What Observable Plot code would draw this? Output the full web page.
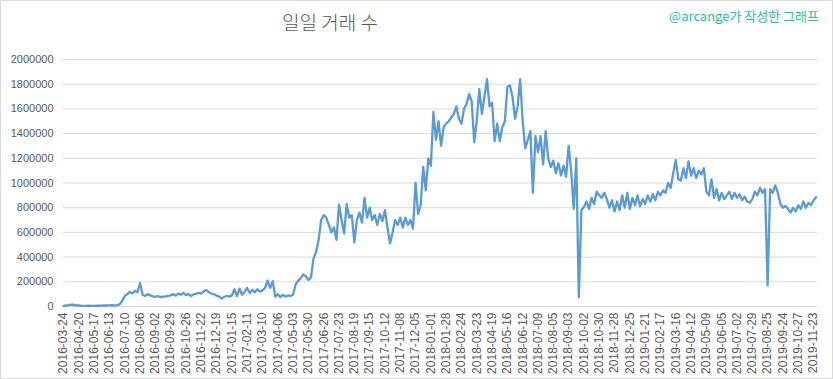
<!DOCTYPE html>
<html>
<head>
<meta charset="utf-8">
<script src="https://cdn.jsdelivr.net/npm/d3@7"></script>
<script src="https://cdn.jsdelivr.net/npm/@observablehq/plot@0.6"></script>
<style>
  html, body { margin: 0; padding: 0; background: #fff; }
  #wrap { position: relative; width: 833px; height: 379px; overflow: hidden; background: #fff; }
  #frame { position: absolute; left: 0; top: 0; width: 833px; height: 379px; box-sizing: border-box; border: 1px solid #d9d9d9; pointer-events: none; }
  #title { position: absolute; left: 230px; width: 200px; top: 8px; text-align: center; font-family: "Noto Sans CJK KR", sans-serif; font-weight: 300; font-size: 19px; color: #595959; }
  #note { position: absolute; right: 14px; top: 6px; font-family: "Noto Sans CJK KR", sans-serif; font-size: 13px; color: #1dbf9f; }
  #chart { position: absolute; left: 0; top: 0; }
</style>
</head>
<body>
<div id="wrap">
  <div id="chart"></div>
  <div id="title">일일 거래 수</div>
  <div id="note">@arcange가 작성한 그래프</div>
  <div id="frame"></div>
</div>
<script>
// x-axis category labels (one every 27 categories)
const tickLabels = [
  "2016-03-24","2016-04-20","2016-05-17","2016-06-13","2016-07-10","2016-08-06","2016-09-02","2016-09-29",
  "2016-10-26","2016-11-22","2016-12-19","2017-01-15","2017-02-11","2017-03-10","2017-04-06","2017-05-03",
  "2017-05-30","2017-06-26","2017-07-23","2017-08-19","2017-09-15","2017-10-12","2017-11-08","2017-12-05",
  "2018-01-01","2018-01-28","2018-02-24","2018-03-23","2018-04-19","2018-05-16","2018-06-12","2018-07-09",
  "2018-08-05","2018-09-03","2018-10-02","2018-10-30","2018-11-28","2018-12-25","2019-01-21","2019-02-17",
  "2019-03-16","2019-04-12","2019-05-09","2019-06-05","2019-07-02","2019-07-29","2019-08-25","2019-09-24",
  "2019-10-27","2019-11-23"
];
const categoriesPerLabel = 27;
const categoryCount = 1331;
const sampleStep = 4.5; // categories between the sampled values below

// daily transaction count, in thousands, sampled (6 readings per label interval)
const txThousands = [
  5, 8, 12, 15, 14, 10,
  8, 6, 5, 5, 6, 5,
  5, 6, 6, 7, 8, 8,
  9, 10, 8, 12, 18, 45,
  85, 100, 118, 105, 128, 115,
  190, 95, 85, 100, 90, 82,
  78, 85, 75, 80, 82, 85,
  90, 100, 88, 105, 95, 110,
  92, 100, 85, 98, 105, 110,
  105, 125, 133, 115, 105, 100,
  88, 80, 65, 78, 85, 80,
  90, 140, 85, 145, 95, 120,
  150, 110, 135, 115, 140, 120,
  130, 150, 210, 150, 205, 80,
  100, 75, 95, 80, 90, 85,
  95, 180, 210, 230, 260, 245,
  215, 235, 390, 440, 540, 700,
  740, 720, 660, 600, 640, 540,
  825, 700, 590, 830, 720, 740,
  520, 700, 760, 680, 880, 720,
  800, 700, 740, 660, 750, 690,
  780, 640, 510, 600, 700, 660,
  720, 640, 720, 660, 700, 630,
  1000, 750, 820, 1130, 940, 1200,
  1140, 1575, 1350, 1500, 1300, 1450,
  1480, 1500, 1530, 1560, 1620, 1520,
  1480, 1600, 1640, 1720, 1660, 1330,
  1510, 1760, 1560, 1700, 1840, 1620,
  1650, 1340, 1480, 1340, 1450, 1500,
  1780, 1790, 1700, 1520, 1620, 1840,
  1500, 1280, 1350, 1420, 920, 1380,
  1250, 1380, 1150, 1420, 1200, 1130,
  1180, 1080, 1160, 1060, 1140, 1050,
  1300, 1100, 790, 1200, 75, 780,
  805, 850, 790, 880, 830, 930,
  900, 880, 920, 870, 800, 860,
  770, 850, 780, 900, 800, 920,
  790, 880, 820, 900, 810, 870,
  830, 900, 850, 910, 860, 930,
  900, 940, 920, 1000, 960, 1080,
  1185, 1030, 1020, 1120, 1040, 1175,
  1060, 1120, 1040, 1100, 1070, 1120,
  930, 900, 1030, 880, 950, 860,
  920, 870, 900, 930, 870, 920,
  880, 910, 860, 890, 850, 840,
  870, 930, 900, 960, 920, 950,
  170, 950, 920, 980, 920, 830,
  800, 815, 790, 760, 800, 770,
  820, 790, 850, 800, 840, 820,
  860, 885
];
const yTicks = [0, 200000, 400000, 600000, 800000, 1000000, 1200000, 1400000, 1600000, 1800000, 2000000];

const data = txThousands.map((v, j) => ({ i: j * sampleStep, v: v * 1000 }));
const xTicks = tickLabels.map((_, k) => k * categoriesPerLabel);

const chart = Plot.plot({
  width: 833,
  height: 379,
  marginLeft: 63,
  marginRight: 16,
  marginTop: 59,
  marginBottom: 73,
  style: { fontFamily: "'Liberation Sans', Arial, sans-serif", fontSize: "11px", color: "#595959", background: "transparent" },
  x: { domain: [0, categoryCount - 1], axis: null },
  y: { domain: [0, 2000000], axis: null },
  marks: [
    Plot.ruleY(yTicks, { stroke: "#d9d9d9", strokeWidth: 1 }),
    Plot.axisY({ ticks: yTicks, tickSize: 0, tickPadding: 10, tickFormat: d3.format("d"), label: null, fontSize: 11 }),
    Plot.axisX({ ticks: xTicks, tickSize: 0, tickPadding: 6, tickRotate: -90, tickFormat: (d) => tickLabels[Math.round(d / categoriesPerLabel)], label: null, fontSize: 12 }),
    Plot.line(data, { x: "i", y: "v", stroke: "#5B9BD5", strokeWidth: 2.3, strokeLinejoin: "round" })
  ]
});
document.getElementById("chart").appendChild(chart);
</script>
</body>
</html>
